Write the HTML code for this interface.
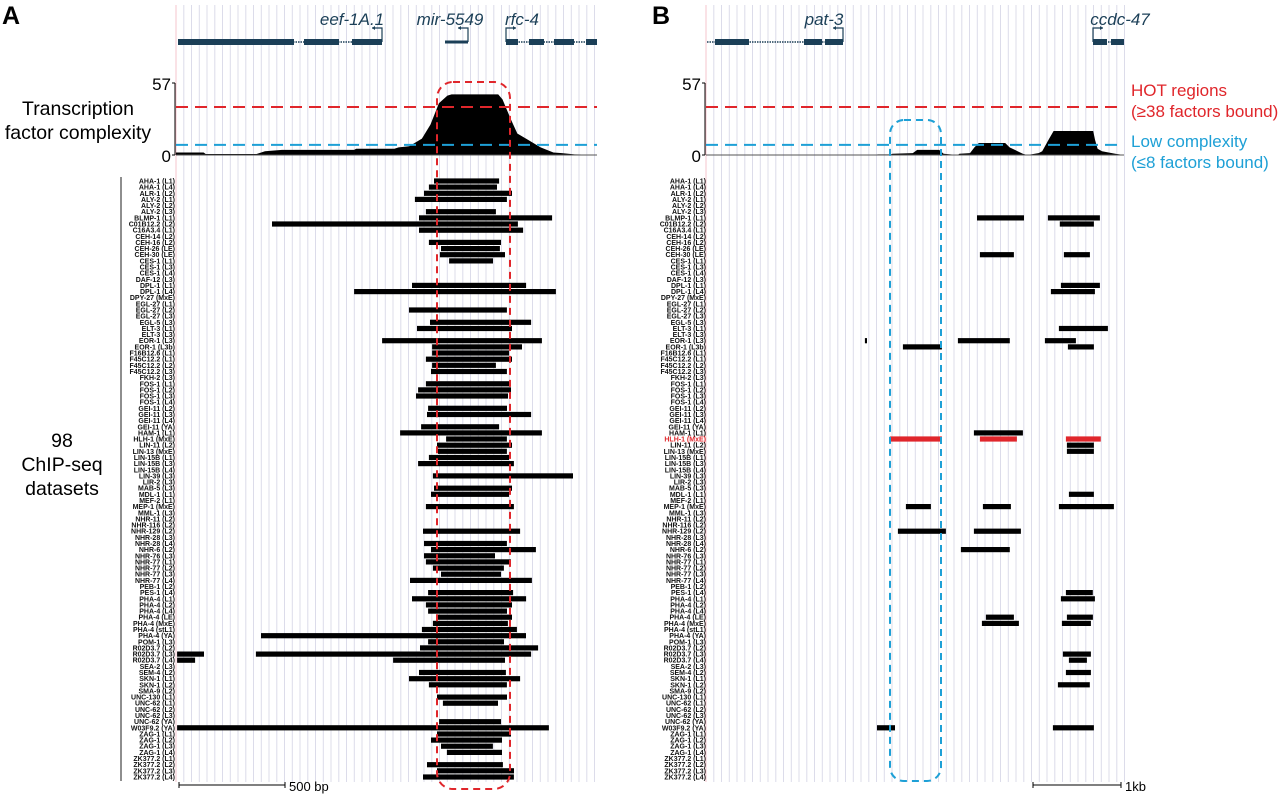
<!DOCTYPE html>
<html><head><meta charset="utf-8">
<style>
html,body{margin:0;padding:0;background:#fff;}
svg{display:block;font-family:"Liberation Sans",Arial,sans-serif;}
</style></head>
<body>
<svg id="fig" width="1280" height="796" viewBox="0 0 1280 796" xmlns="http://www.w3.org/2000/svg">
  <text x="2" y="24" font-size="25" font-weight="bold">A</text>
  <text x="652" y="24" font-size="25" font-weight="bold">B</text>
  <text x="78" y="115" font-size="19.5" text-anchor="middle">Transcription</text>
  <text x="78" y="139" font-size="19.5" text-anchor="middle">factor complexity</text>
  <text x="62" y="447" font-size="19.5" text-anchor="middle">98</text>
  <text x="62" y="471" font-size="19.5" text-anchor="middle">ChIP-seq</text>
  <text x="62" y="495" font-size="19.5" text-anchor="middle">datasets</text>
  <line x1="121" y1="177" x2="121" y2="781" stroke="#444" stroke-width="1.2"/>
  <text x="1131" y="96" font-size="17" fill="#e0262b">HOT regions</text>
  <text x="1131" y="117" font-size="17" fill="#e0262b">(≥38 factors bound)</text>
  <text x="1131" y="147" font-size="17" fill="#1ea0d6">Low complexity</text>
  <text x="1131" y="168" font-size="17" fill="#1ea0d6">(≤8 factors bound)</text>
</svg>
<script>
const labels = ["AHA-1 (L1)","AHA-1 (L4)","ALR-1 (L2)","ALY-2 (L1)","ALY-2 (L2)","ALY-2 (L3)","BLMP-1 (L1)","C01B12.2 (L2)","C16A3.4 (L1)","CEH-14 (L2)","CEH-16 (L2)","CEH-26 (LE)","CEH-30 (LE)","CES-1 (L1)","CES-1 (L3)","CES-1 (L4)","DAF-12 (L3)","DPL-1 (L1)","DPL-1 (L4)","DPY-27 (MxE)","EGL-27 (L1)","EGL-27 (L2)","EGL-27 (L3)","EGL-5 (L3)","ELT-3 (L1)","ELT-3 (L3)","EOR-1 (L3)","EOR-1 (L3b)","F16B12.6 (L1)","F45C12.2 (L1)","F45C12.2 (L2)","F45C12.2 (L3)","FKH-2 (L3)","FOS-1 (L1)","FOS-1 (L2)","FOS-1 (L3)","FOS-1 (L4)","GEI-11 (L2)","GEI-11 (L3)","GEI-11 (L4)","GEI-11 (YA)","HAM-1 (L1)","HLH-1 (MxE)","LIN-11 (L2)","LIN-13 (MxE)","LIN-15B (L1)","LIN-15B (L3)","LIN-15B (L4)","LIN-39 (L3)","LIR-2 (L3)","MAB-5 (L3)","MDL-1 (L1)","MEF-2 (L1)","MEP-1 (MxE)","MML-1 (L3)","NHR-11 (L2)","NHR-116 (L2)","NHR-129 (L2)","NHR-28 (L3)","NHR-28 (L4)","NHR-6 (L2)","NHR-76 (L3)","NHR-77 (L1)","NHR-77 (L2)","NHR-77 (L3)","NHR-77 (L4)","PEB-1 (L2)","PES-1 (L4)","PHA-4 (L1)","PHA-4 (L2)","PHA-4 (L4)","PHA-4 (LE)","PHA-4 (MxE)","PHA-4 (stL1)","PHA-4 (YA)","POM-1 (L3)","R02D3.7 (L2)","R02D3.7 (L3)","R02D3.7 (L4)","SEA-2 (L3)","SEM-4 (L2)","SKN-1 (L1)","SKN-1 (L2)","SMA-9 (L2)","UNC-130 (L1)","UNC-62 (L1)","UNC-62 (L2)","UNC-62 (L3)","UNC-62 (YA)","W03F9.2 (YA)","ZAG-1 (L1)","ZAG-1 (L2)","ZAG-1 (L3)","ZAG-1 (L4)","ZK377.2 (L1)","ZK377.2 (L2)","ZK377.2 (L3)","ZK377.2 (L4)"];
// Panel A binding peaks: [row index (1-based), start bp, end bp]
const peaksA = [[1,1217,1524],[2,1193,1514],[3,1170,1585],[4,1127,1561],[6,1179,1509],[7,1146,1774],[8,453,1613],[9,1146,1637],[11,1193,1533],[12,1250,1528],[13,1245,1552],[14,1288,1495],[18,1113,1651],[19,840,1792],[22,1099,1561],[24,1198,1675],[25,1137,1585],[27,972,1726],[28,1208,1632],[29,1208,1571],[30,1179,1585],[31,1208,1509],[32,1203,1561],[34,1179,1571],[35,1142,1580],[36,1132,1566],[38,1189,1561],[39,1184,1675],[41,1156,1524],[42,1057,1726],[43,1274,1561],[44,1231,1585],[45,1236,1561],[46,1193,1571],[47,1142,1594],[49,1212,1873],[51,1217,1585],[52,1203,1571],[54,1179,1594],[58,1165,1623],[60,1170,1561],[61,1203,1698],[62,1170,1505],[63,1179,1580],[64,1212,1547],[65,1250,1533],[66,1104,1679],[68,1189,1590],[69,1113,1651],[70,1179,1585],[71,1189,1561],[72,1227,1585],[73,1212,1566],[74,1160,1608],[75,401,1651],[76,1189,1547],[77,1151,1708],[78,5,132],[78,377,1675],[79,5,90],[79,1024,1552],[81,1146,1556],[82,1099,1623],[83,1193,1561],[85,1231,1561],[86,1259,1519],[89,1241,1533],[90,5,1759],[91,1231,1580],[92,1203,1538],[93,1250,1495],[94,1278,1538],[96,1184,1542],[97,1231,1594],[98,1165,1594]];
// Panel B binding peaks: [row, start bp, end bp]
const peaksB = [[7,3079,3613],[7,3885,4476],[8,4021,4408],[13,3113,3499],[13,4067,4362],[18,4033,4476],[19,3919,4419],[25,4010,4567],[27,1806,1830],[27,2863,3453],[27,3851,4203],[28,2238,2681],[28,4112,4408],[42,3044,3601],[43,2090,2681],[43,3113,3533],[43,4090,4487],[44,4101,4408],[45,4101,4408],[52,4124,4408],[54,2272,2556],[54,3147,3465],[54,4010,4635],[58,2181,2726],[58,3044,3578],[61,2897,3453],[68,4090,4396],[69,4033,4419],[72,3181,3499],[72,4101,4396],[73,3135,3556],[73,4044,4374],[78,4056,4374],[79,4124,4328],[81,4090,4374],[83,3999,4362],[90,1943,2147],[90,3942,4408]];
const highlightRow = 43;
// Complexity signal (bp position, number of factors bound)
const sigApos = [0,130,140,380,420,500,840,850,1030,1050,1100,1160,1200,1240,1280,1300,1520,1540,1580,1610,1660,1720,1780,1820,1880,1950,1985];
const sigAval = [2,2,0.8,0.8,3,4,4,5,5,6,7,13,24,41,47,48,48,44,28,17,12,6,2,1.5,0.5,0.3,0];
const sigBpos = [0,1930,1950,2100,2120,2350,2400,2650,2700,2860,2880,3000,3050,3100,3400,3450,3600,3650,3780,3820,3900,3950,4000,4050,4400,4420,4450,4500,4650,4750];
const sigBval = [0,0,0.5,0.5,1,1.5,4,4,1,0,1,1.5,6,9.5,9.5,6,1,0,1.5,3,13,19,19,19,19,12,5,3,1,0];
const yTicks = [0,57];
const hotThreshold = 38, lowThreshold = 8;

const svg = document.getElementById('fig');
const NS = 'http://www.w3.org/2000/svg';
function mk(tag, attrs, parent){const e=document.createElementNS(NS,tag);for(const k in attrs)e.setAttribute(k,attrs[k]);(parent||svg).appendChild(e);return e;}

const rowY = i => 181 + (i-1)*6.144;
const sigY = v => 155 - v*72/57;
const panels = [
  {key:'a', x0:176, x1:597, bpPerPx:500/106, peaks:peaksA, pos:sigApos, val:sigAval, labelX:175},
  {key:'b', x0:706, x1:1124, bpPerPx:1000/88, peaks:peaksB, pos:sigBpos, val:sigBval, labelX:706}
];

panels.forEach(p => {
  const xs = bp => p.x0 + bp/p.bpPerPx;
  const g = mk('g',{});
  
  
  for(let x=p.x0+7.75; x<=p.x1+1; x+=7.75){
    mk('line',{x1:x.toFixed(1),y1:5,x2:x.toFixed(1),y2:782,stroke:'#dcdcea','stroke-width':1},g);
  }
  const edge = mk('line',{x1:p.x0,y1:5,x2:p.x0,y2:782,stroke:'#f5c4cc','stroke-width':1});
  
  
  let d = 'M'+xs(p.pos[0])+','+sigY(0);
  for(let i=0;i<p.pos.length;i++){ d += ' L'+xs(p.pos[i]).toFixed(1)+','+sigY(p.val[i]).toFixed(1); }
  d += ' L'+xs(p.pos[p.pos.length-1]).toFixed(1)+','+sigY(0)+' Z';
  const area = mk('path',{d:d,fill:'#000'});
  
  
  const base = mk('line',{x1:p.x0,y1:155,x2:p.x1,y2:155,stroke:'#555','stroke-width':1});
  
  
  const ax = mk('line',{x1:p.x0-1,y1:sigY(57),x2:p.x0-1,y2:155,stroke:'#000','stroke-width':1});
  
  
  yTicks.forEach(t => {
    const tl = mk('line',{x1:p.x0-4,y1:sigY(t),x2:p.x0-1,y2:sigY(t),stroke:'#000'});
    
    
    const tx = mk('text',{x:p.x0-5,y:sigY(t)+7,'font-size':17,'text-anchor':'end'});
    tx.textContent = t;
    
    
  });
  const hot = mk('line',{x1:p.x0,y1:sigY(hotThreshold),x2:p.x1,y2:sigY(hotThreshold),stroke:'#e0262b','stroke-width':2,'stroke-dasharray':'12 7'});
  
  
  const low = mk('line',{x1:p.x0,y1:sigY(lowThreshold),x2:p.x1,y2:sigY(lowThreshold),stroke:'#1ea0d6','stroke-width':2,'stroke-dasharray':'12 7'});
  
  
  labels.forEach((lab,i) => {
    const t = mk('text',{x:p.labelX,y:(rowY(i+1)+2.5).toFixed(1),'font-size':7,'font-weight':'bold','text-anchor':'end',fill:(p.key==='b'&&i+1===highlightRow)?'#e0262b':'#111'});
    t.textContent = lab;
    
    
  });
  p.peaks.forEach(pk => {
    const red = p.key==='b' && pk[0]===highlightRow;
    const r = mk('rect',{x:xs(pk[1]).toFixed(1),y:(rowY(pk[0])-2.6).toFixed(1),width:Math.max(1,(pk[2]-pk[1])/p.bpPerPx).toFixed(1),height:5.2,fill:red?'#e0262b':'#000'});
    
    
  });
});

const geneCol = '#1b3f57';
function exon(x1,x2,h,name){const r=mk('rect',{x:x1,y:42-h/2,width:x2-x1,height:h,fill:geneCol});}
function intron(x1,x2,name){const l=mk('line',{x1:x1,y1:42,x2:x2,y2:42,stroke:geneCol,'stroke-width':1.5,'stroke-dasharray':'1.5 1'});}
function tss(x,dir,name){const l=mk('path',{d:`M${x},42 V28 H${x+dir*10}`,fill:'none',stroke:geneCol,'stroke-width':1.2});
 const a=mk('path',{d:`M${x+dir*10},28 l${-dir*3},-2 v4 z`,fill:geneCol});}
function glabel(x,txt,name){const t=mk('text',{x:x,y:25,'font-size':17,'font-style':'italic',fill:geneCol,'text-anchor':'middle'});t.textContent=txt;}
intron(178,382,'eef-1a1-intron'); exon(178,294,6,'eef-1a1-exon'); exon(304,339,6,'eef-1a1-exon'); exon(352,382,6,'eef-1a1-exon');
tss(382,-1,'eef-1a1-tss'); glabel(352,'eef-1A.1','gene-label-eef-1a1');
exon(445,468,3,'mir-5549-gene'); tss(468,-1,'mir-5549-tss'); glabel(450,'mir-5549','gene-label-mir-5549');
intron(506,597,'rfc-4-intron'); exon(506,518,6,'rfc-4-exon'); exon(529,544,6,'rfc-4-exon'); exon(554,574,6,'rfc-4-exon'); exon(586,597,6,'rfc-4-exon');
tss(506,1,'rfc-4-tss'); glabel(522,'rfc-4','gene-label-rfc-4');
intron(707,843,'pat-3-intron'); exon(715,749,6,'pat-3-exon'); exon(804,822,6,'pat-3-exon'); exon(825,843,6,'pat-3-exon');
tss(843,-1,'pat-3-tss'); glabel(824,'pat-3','gene-label-pat-3');
intron(1093,1124,'ccdc-47-intron'); exon(1093,1107,6,'ccdc-47-exon'); exon(1111,1124,6,'ccdc-47-exon');
tss(1093,1,'ccdc-47-tss'); glabel(1120,'ccdc-47','gene-label-ccdc-47');

const hl = mk('rect',{x:437,y:82,width:73,height:707,rx:16,ry:16,fill:'none',stroke:'#e0262b','stroke-width':2,'stroke-dasharray':'7 5'});


const hl2 = mk('rect',{x:890,y:120,width:51,height:661,rx:14,ry:14,fill:'none',stroke:'#1ea0d6','stroke-width':2,'stroke-dasharray':'7 5'});



function scalebar(x1,x2,txt,name){const g=mk('g',{});
 mk('line',{x1:x1,y1:785,x2:x2,y2:785,stroke:'#000','stroke-width':1},g);
 mk('line',{x1:x1,y1:782,x2:x1,y2:788,stroke:'#000'},g);mk('line',{x1:x2,y1:782,x2:x2,y2:788,stroke:'#000'},g);
 const t=mk('text',{x:x2+4,y:791,'font-size':13},g);t.textContent=txt;}
scalebar(179,285,'500 bp','scale-bar-a');
scalebar(1033,1121,'1kb','scale-bar-b');
</script>
</body></html>
